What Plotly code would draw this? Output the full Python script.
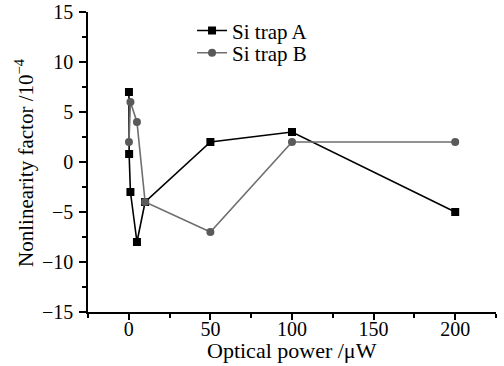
import plotly.graph_objects as go

power_a = [0.1, 0.2, 1, 5, 10, 50, 100, 200]
factor_a = [7, 0.8, -3, -8, -4, 2, 3, -5]
power_b = [0.1, 1, 5, 10, 50, 100, 200]
factor_b = [2, 6, 4, -4, -7, 2, 2]

FONT = "Liberation Serif"

fig = go.Figure()
fig.add_trace(go.Scatter(x=power_a, y=factor_a, mode="lines+markers", name="Si trap A",
                         legend="legend",
                         line=dict(color="black", width=1.6),
                         marker=dict(symbol="square", size=8, color="black")))
fig.add_trace(go.Scatter(x=power_b, y=factor_b, mode="lines+markers", name="Si trap B",
                         legend="legend2",
                         line=dict(color="#6e6e6e", width=1.6),
                         marker=dict(symbol="circle", size=8, color="#5a5a5a")))

leg_common = dict(xanchor="left", yanchor="middle", bgcolor="rgba(0,0,0,0)",
                  font=dict(family=FONT, size=21), itemwidth=30)

fig.update_layout(
    width=504, height=366,
    margin=dict(l=88, r=8, t=12, b=54, autoexpand=False),
    paper_bgcolor="white", plot_bgcolor="white",
    font=dict(family=FONT, size=20, color="black"),
    showlegend=True,
    legend=dict(x=0.255, y=0.937, **leg_common),
    legend2=dict(x=0.255, y=0.863, **leg_common),
    xaxis=dict(range=[-25, 225], tickvals=[0, 50, 100, 150, 200], automargin=False,
               showgrid=False, zeroline=False, showline=True, linecolor="black", linewidth=1.5,
               ticks="outside", ticklen=6, tickwidth=1.5, tickcolor="black",
               ticklabelstandoff=-8, ticklabeloverflow="allow",
               minor=dict(tickvals=[-25, 25, 75, 125, 175, 225], ticks="outside", ticklen=4, tickwidth=1.5, tickcolor="black")),
    yaxis=dict(range=[-15, 15], tickvals=[-15, -10, -5, 0, 5, 10, 15], automargin=False,
               ticktext=["\u221215", "\u221210", "\u22125", "0", "5", "10", "15"],
               showgrid=False, zeroline=False, showline=True, linecolor="black", linewidth=1.5,
               ticks="outside", ticklen=7, tickwidth=1.5, tickcolor="black",
               ticklabelstandoff=2, ticklabeloverflow="allow",
               minor=dict(tickvals=[-12.5, -7.5, -2.5, 2.5, 7.5, 12.5], ticks="outside", ticklen=4, tickwidth=1.5, tickcolor="black")),
    annotations=[
        dict(text="Optical power /μW", xref="paper", yref="paper", x=0.5, y=-0.127,
             xanchor="center", yanchor="middle", showarrow=False, font=dict(size=22)),
        dict(text="Nonlinearity factor /10<sup>\u22124</sup>", xref="paper", yref="paper",
             x=-0.157, y=0.5, textangle=-90, xanchor="center", yanchor="middle",
             showarrow=False, font=dict(size=21)),
    ],
)

fig.write_html("out.html", config={"displayModeBar": False},
               post_script="document.body.style.margin='0';document.body.style.overflow='hidden';")
